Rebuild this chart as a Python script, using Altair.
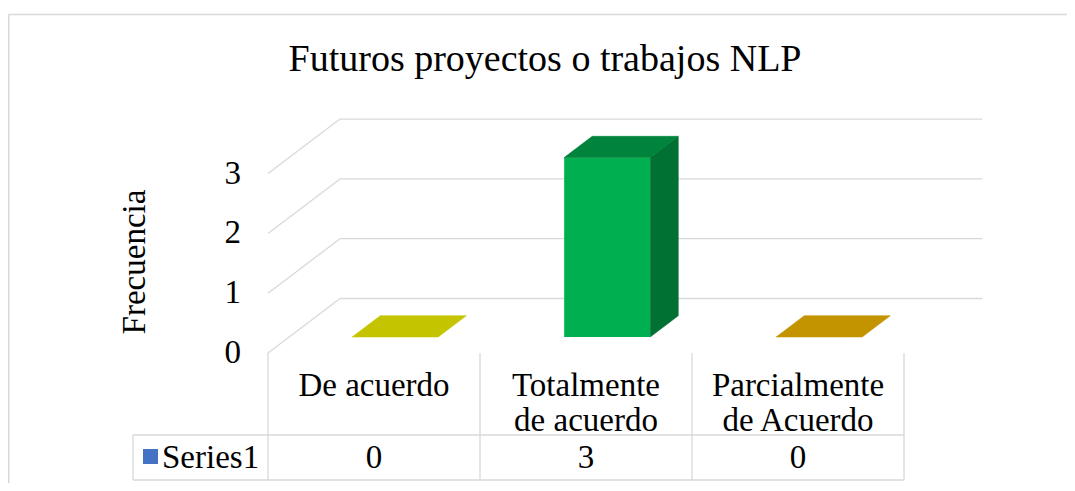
import altair as alt
import pandas as pd

# ---------------- data ----------------
categories = ["De acuerdo", "Totalmente\nde acuerdo", "Parcialmente\nde Acuerdo"]
values = [0, 3, 0]
series_name = "Series1"
y_ticks = [0, 1, 2, 3]
title_text = "Futuros proyectos o trabajos NLP"
y_title = "Frecuencia"

front_colors = ["#D6D600", "#00B050", "#D6A200"]
top_colors = ["#C4C400", "#00843C", "#C49400"]
side_colors = ["#A8A800", "#007033", "#A87F00"]

# ---------------- geometry (pixel calibration of the pseudo-3D frame) ----------------
PX0, CW = 268, 212          # page x of category axis start, category width
PY0, VH = 353, 59.8         # page y of value 0 at front plane, px per unit
DEPTH_DX, DEPTH_DY = 72, 54.5
W, H = 1059, 475


def U(px):
    return (px - PX0) / CW


def V(py):
    return (PY0 - py) / VH


DU = DEPTH_DX / CW
DV = DEPTH_DY / VH
BAR_D0 = 0.294
BAR_DEPTH = 0.39
BAR_W = 86 / CW
WALL_EXTRA = 0.03

xs = alt.Scale(domain=[U(8), U(8 + W)], zero=False, nice=False)
ys = alt.Scale(domain=[V(8 + H), V(8)], zero=False, nice=False)


def X(f):
    return alt.X(f, type="quantitative", scale=xs, axis=None)


def Y(f):
    return alt.Y(f, type="quantitative", scale=ys, axis=None)


GRID = "#D9D9D9"
FONT = "Liberation Serif"
FS = 33

# ---------------- frame ----------------
grid_df = pd.DataFrame({
    "x": [DU] * len(y_ticks),
    "x2": [len(categories) + DU + WALL_EXTRA] * len(y_ticks),
    "y": [t + DV for t in y_ticks],
})
grid = alt.Chart(grid_df).mark_rule(color=GRID, strokeWidth=1.3).encode(
    x=X("x"), x2="x2", y=Y("y"))

diag_df = pd.DataFrame({
    "x": [0.0] * len(y_ticks), "x2": [DU] * len(y_ticks),
    "y": [float(t) for t in y_ticks], "y2": [t + DV for t in y_ticks],
})
diag = alt.Chart(diag_df).mark_rule(color=GRID, strokeWidth=1.3).encode(
    x=X("x"), x2="x2", y=Y("y"), y2="y2")

# table lines
vlines_df = pd.DataFrame({
    "x": [float(i) for i in range(len(categories) + 1)],
    "y": [0.0] * (len(categories) + 1),
    "y2": [V(480)] * (len(categories) + 1),
})
vlines = alt.Chart(vlines_df).mark_rule(color=GRID, strokeWidth=1.3).encode(
    x=X("x"), y=Y("y"), y2="y2")

hlines_df = pd.DataFrame({
    "x": [U(133), U(133)], "x2": [float(len(categories))] * 2,
    "y": [V(435), V(480)],
})
hlines = alt.Chart(hlines_df).mark_rule(color=GRID, strokeWidth=1.3).encode(
    x=X("x"), x2="x2", y=Y("y"))

lvline_df = pd.DataFrame({"x": [U(133)], "y": [V(435)], "y2": [V(480)]})
lvline = alt.Chart(lvline_df).mark_rule(color=GRID, strokeWidth=1.3).encode(
    x=X("x"), y=Y("y"), y2="y2")

# outer border (top and left)
border_top = alt.Chart(pd.DataFrame({"a": [0]})).mark_rule(color=GRID, strokeWidth=1.5).encode(
    x=alt.value(0.5), x2=alt.value(W), y=alt.value(6.5))
border_left = alt.Chart(pd.DataFrame({"a": [0]})).mark_rule(color=GRID, strokeWidth=1.5).encode(
    x=alt.value(0.75), y=alt.value(6.5), y2=alt.value(H))

# ---------------- bars ----------------
front_rows, top_rows, side_rows = [], [], []
for i, val in enumerate(values):
    c = i + 0.5 + BAR_D0 * DU
    xl, xr = c - BAR_W / 2, c + BAR_W / 2
    vb = BAR_D0 * DV
    vt = val + vb
    if val > 0:
        front_rows.append({"cat": str(i), "x": xl, "x2": xr, "y": vb, "y2": vt,
                           "col": front_colors[i]})
        side_rows.append({"cat": str(i), "x": xr, "y": vb, "y2": vt, "col": side_colors[i]})
        side_rows.append({"cat": str(i), "x": xr + BAR_DEPTH * DU, "y": vb + BAR_DEPTH * DV,
                          "y2": vt + BAR_DEPTH * DV, "col": side_colors[i]})
    top_rows.append({"cat": str(i), "y": vt, "x": xl, "x2": xr, "col": top_colors[i]})
    top_rows.append({"cat": str(i), "y": vt + BAR_DEPTH * DV, "x": xl + BAR_DEPTH * DU,
                     "x2": xr + BAR_DEPTH * DU, "col": top_colors[i]})

front = alt.Chart(pd.DataFrame(front_rows)).mark_rect().encode(
    x=X("x"), x2="x2", y=Y("y"), y2="y2",
    color=alt.Color("col:N", scale=None))

side = alt.Chart(pd.DataFrame(side_rows)).mark_area(orient="vertical", strokeWidth=0.6).encode(
    x=X("x"), y=Y("y"), y2="y2",
    color=alt.Color("col:N", scale=None), stroke=alt.Stroke("col:N", scale=None),
    detail="cat:N")

top = alt.Chart(pd.DataFrame(top_rows)).mark_area(orient="horizontal", strokeWidth=0.6).encode(
    y=Y("y"), x=X("x"), x2="x2",
    color=alt.Color("col:N", scale=None), stroke=alt.Stroke("col:N", scale=None),
    detail="cat:N")

# ---------------- texts ----------------
tick_df = pd.DataFrame({"x": [U(241)] * len(y_ticks), "y": [float(t) for t in y_ticks],
                        "t": [str(t) for t in y_ticks]})
ticks = alt.Chart(tick_df).mark_text(font=FONT, fontSize=FS, align="right",
                                     baseline="middle", color="black").encode(
    x=X("x"), y=Y("y"), text="t:N")

cat_df = pd.DataFrame({"x": [i + 0.5 for i in range(len(categories))],
                       "y": [V(396)] * len(categories), "t": categories})
cats = alt.Chart(cat_df).mark_text(font=FONT, fontSize=FS, align="center",
                                   baseline="alphabetic", lineBreak="\n", lineHeight=35,
                                   color="black").encode(
    x=X("x"), y=Y("y"), text="t:N")

val_df = pd.DataFrame({"x": [i + 0.5 for i in range(len(values))],
                       "y": [V(458)] * len(values), "t": [str(v) for v in values]})
vals = alt.Chart(val_df).mark_text(font=FONT, fontSize=FS, align="center",
                                   baseline="middle", color="black").encode(
    x=X("x"), y=Y("y"), text="t:N")

ser_df = pd.DataFrame({"x": [U(162)], "y": [V(458)], "t": [series_name]})
ser = alt.Chart(ser_df).mark_text(font=FONT, fontSize=FS, align="left",
                                  baseline="middle", color="black").encode(
    x=X("x"), y=Y("y"), text="t:N")

key_df = pd.DataFrame({"x": [U(143)], "x2": [U(158)], "y": [V(449)], "y2": [V(464)]})
key = alt.Chart(key_df).mark_rect(color="#4472C4").encode(
    x=X("x"), x2="x2", y=Y("y"), y2="y2")

ytitle_df = pd.DataFrame({"x": [U(135)], "y": [V(262)], "t": [y_title]})
ytitle = alt.Chart(ytitle_df).mark_text(font=FONT, fontSize=FS, align="center",
                                        baseline="middle", angle=270, color="black").encode(
    x=X("x"), y=Y("y"), text="t:N")

title_df = pd.DataFrame({"x": [U(545)], "y": [V(71)], "t": [title_text]})
title = alt.Chart(title_df).mark_text(font=FONT, fontSize=38, align="center",
                                      baseline="alphabetic", color="black").encode(
    x=X("x"), y=Y("y"), text="t:N")

chart = alt.layer(
    border_top, border_left, grid, diag, vlines, hlines, lvline,
    side, front, top,
    ticks, cats, vals, ser, key, ytitle, title,
).properties(
    width=W, height=H,
    autosize=alt.AutoSizeParams(type="none"),
    padding=0,
    background="white",
).configure_view(stroke=None)

chart.save("out.html", embed_options={"renderer": "svg", "actions": False})
